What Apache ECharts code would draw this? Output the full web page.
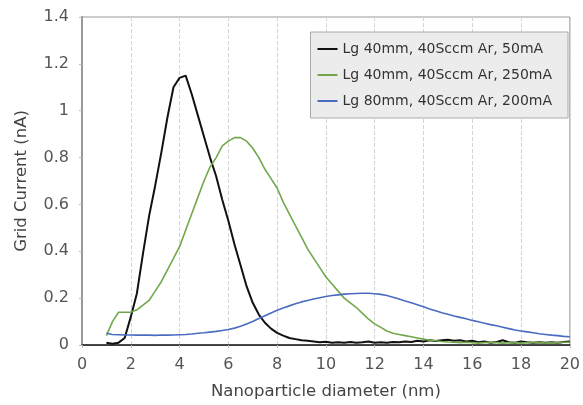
<!DOCTYPE html>
<html>
<head>
<meta charset="utf-8">
<script src="https://cdn.jsdelivr.net/npm/echarts@6/dist/echarts.min.js"></script>
<style>
  html, body { margin: 0; padding: 0; background: #fff; }
  #chart { width: 583px; height: 405px; }
</style>
</head>
<body>
<div id="chart"></div>
<script>
// x sampling grid (nm), 1 to 20 in steps of 0.25
const diameters = Array.from({ length: 77 }, (_, i) => 1 + i * 0.25);

const seriesNames = [
    'Lg 40mm, 40Sccm Ar, 50mA',
    'Lg 40mm, 40Sccm Ar, 250mA',
    'Lg 80mm, 40Sccm Ar, 200mA'
];

const current50mA = [
    0.01, 0.005, 0.01, 0.03, 0.12, 0.22, 0.39, 0.55, 0.68, 0.82, 0.97, 1.10, 1.14, 1.15, 1.07, 0.98,
    0.89, 0.80, 0.72, 0.62, 0.53, 0.43, 0.34, 0.25, 0.18, 0.13, 0.095, 0.07, 0.052, 0.04, 0.03, 0.025,
    0.02, 0.018, 0.015,
    0.012, 0.014, 0.01, 0.012, 0.01, 0.013, 0.01, 0.012, 0.015, 0.01, 0.012, 0.01, 0.013, 0.012,
    0.015, 0.013, 0.018, 0.015, 0.02, 0.017, 0.02, 0.022, 0.018, 0.02, 0.015, 0.018, 0.012, 0.015,
    0.01, 0.013, 0.02, 0.012, 0.01, 0.015, 0.012, 0.01, 0.012, 0.01, 0.012, 0.01, 0.013, 0.015
];

const current250mA = [
    0.04, 0.10, 0.14, 0.14, 0.14, 0.15, 0.17, 0.19, 0.23, 0.27, 0.32, 0.37, 0.42, 0.49, 0.56, 0.63,
    0.70, 0.76, 0.80, 0.85, 0.87, 0.885, 0.885, 0.87, 0.84, 0.80, 0.75, 0.71, 0.67, 0.61, 0.56, 0.51,
    0.46, 0.41, 0.37, 0.33, 0.29, 0.26, 0.23, 0.20, 0.18, 0.16, 0.135, 0.11, 0.09, 0.075, 0.06, 0.05,
    0.045, 0.04, 0.035, 0.03, 0.025, 0.02, 0.018, 0.015, 0.013,
    0.012, 0.01, 0.012, 0.01, 0.008, 0.01, 0.012, 0.01, 0.008, 0.01, 0.01, 0.008, 0.01, 0.012,
    0.01, 0.008, 0.01, 0.01, 0.012, 0.012
];

const current200mA = [
    0.05, 0.045, 0.044, 0.043, 0.043, 0.042, 0.043, 0.042, 0.041, 0.043, 0.042, 0.043, 0.044, 0.045,
    0.047, 0.05, 0.052, 0.055, 0.058, 0.062, 0.066, 0.072, 0.08, 0.09, 0.10, 0.113, 0.125, 0.137,
    0.148, 0.158, 0.167, 0.176, 0.184, 0.19, 0.196, 0.202, 0.207, 0.211, 0.214, 0.217, 0.219, 0.22,
    0.221, 0.221, 0.219, 0.216, 0.211, 0.204, 0.196, 0.188, 0.18, 0.172, 0.163, 0.154, 0.146, 0.138,
    0.131, 0.124, 0.118, 0.112, 0.105, 0.099, 0.093, 0.087, 0.082, 0.076, 0.07, 0.064, 0.06, 0.056,
    0.052, 0.048, 0.045, 0.042, 0.04, 0.037, 0.035
];

const lineColors = ['#111111', '#72a84a', '#4a6cc0'];
const lineWidths = [2, 1.6, 1.6];

function toPairs(values) {
    return diameters.map((x, i) => [x, values[i]]);
}

function initChart() {
    const chart = echarts.init(document.getElementById('chart'));
    const font = 'DejaVu Sans';
    const makeSeries = (idx, values) => ({
        name: seriesNames[idx],
        type: 'line',
        symbol: 'none',
        data: toPairs(values),
        lineStyle: { color: lineColors[idx], width: lineWidths[idx] },
        itemStyle: { color: lineColors[idx] },
        xAxisIndex: 0,
        yAxisIndex: 0
    });

    const option = {
        animation: false,
        textStyle: { fontFamily: font },
        grid: {
            left: 82, right: 13, top: 17, bottom: 60,
            show: true, borderColor: '#999', borderWidth: 1
        },
        legend: {
            orient: 'vertical',
            right: 15,
            top: 32,
            backgroundColor: '#ececec',
            borderColor: '#aaa',
            borderWidth: 1,
            borderRadius: 0,
            padding: [10, 16, 10, 7],
            itemGap: 12,
            itemWidth: 20,
            itemHeight: 2,
            icon: 'rect',
            textStyle: { fontFamily: font, fontSize: 14, color: '#333' },
            data: seriesNames
        },
        xAxis: [{
            type: 'value',
            min: 0,
            max: 20,
            interval: 2,
            name: 'Nanoparticle diameter (nm)',
            nameLocation: 'middle',
            nameGap: 38,
            nameTextStyle: { fontSize: 16.5, color: '#444' },
            axisLine: { lineStyle: { color: '#888', width: 1 } },
            axisTick: { show: true, length: 3, lineStyle: { color: '#bbb' } },
            axisLabel: { fontSize: 16, color: '#555', margin: 12 },
            splitLine: { show: true, lineStyle: { color: '#d4d4d4', type: 'dashed', width: 1 } }
        }, {
            type: 'value',
            position: 'top',
            min: 0,
            max: 20,
            interval: 2,
            axisLine: { lineStyle: { color: '#222', width: 1.5 } },
            axisTick: { show: false },
            axisLabel: { show: false },
            splitLine: { show: false }
        }],
        yAxis: [{
            type: 'value',
            min: 0,
            max: 1.4,
            interval: 0.2,
            name: 'Grid Current (nA)',
            nameLocation: 'middle',
            nameGap: 52,
            nameTextStyle: { fontSize: 16.5, color: '#444' },
            axisLine: { show: true, lineStyle: { color: '#222', width: 1.5 } },
            axisTick: { show: true, length: 3, lineStyle: { color: '#bbb' } },
            axisLabel: { fontSize: 16, color: '#555', margin: 13 },
            splitLine: { show: false }
        }, {
            type: 'value',
            position: 'right',
            min: 0,
            max: 1.4,
            interval: 0.2,
            axisLine: { show: true, lineStyle: { color: '#999', width: 2 } },
            axisTick: { show: false },
            axisLabel: { show: false },
            splitLine: { show: false }
        }],
        series: [
            makeSeries(0, current50mA),
            makeSeries(1, current250mA),
            makeSeries(2, current200mA)
        ]
    };
    chart.setOption(option);
}

document.addEventListener('DOMContentLoaded', initChart);
</script>
</body>
</html>
